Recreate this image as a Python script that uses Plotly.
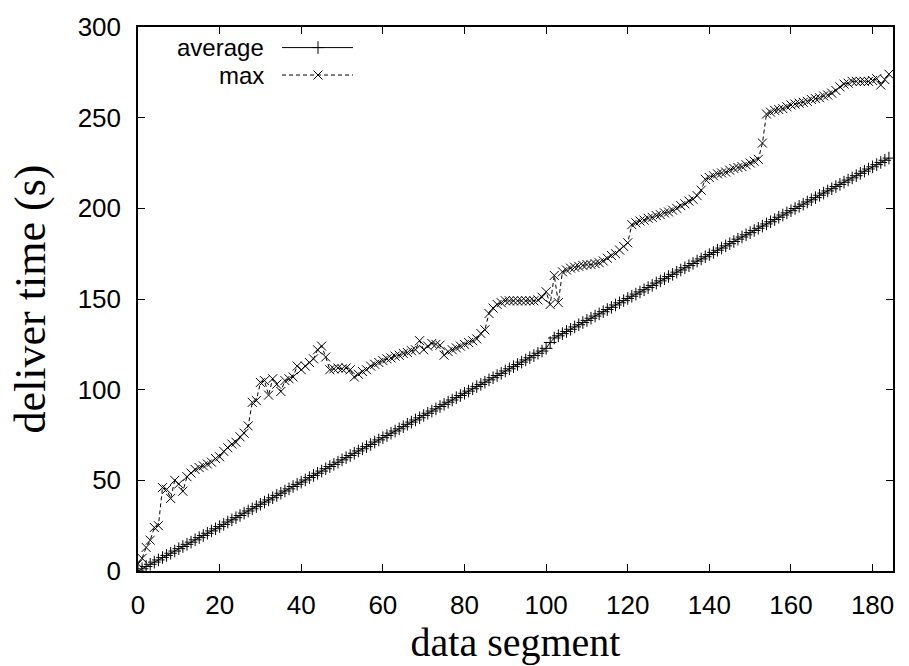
import plotly.graph_objects as go

segments = list(range(0, 185))

average = [
    0.0, 1.2, 2.5, 3.7, 4.9, 6.1, 7.4, 8.6, 9.8, 11.0,
    12.3, 13.5, 14.7, 15.9, 17.2, 18.4, 19.6, 20.8, 22.1, 23.3,
    24.5, 25.7, 27.0, 28.2, 29.4, 30.6, 31.9, 33.1, 34.3, 35.5,
    36.8, 38.0, 39.2, 40.4, 41.7, 42.9, 44.1, 45.3, 46.6, 47.8,
    49.0, 50.2, 51.5, 52.7, 53.9, 55.1, 56.4, 57.6, 58.8, 60.0,
    61.3, 62.5, 63.7, 64.9, 66.2, 67.4, 68.6, 69.8, 71.1, 72.3,
    73.5, 74.7, 76.0, 77.2, 78.4, 79.6, 80.9, 82.1, 83.3, 84.5,
    85.8, 87.0, 88.2, 89.4, 90.7, 91.9, 93.1, 94.3, 95.6, 96.8,
    98.0, 99.2, 100.5, 101.7, 102.9, 104.1, 105.4, 106.6, 107.8, 109.0,
    110.3, 111.5, 112.7, 113.9, 115.2, 116.4, 117.6, 118.8, 120.1, 121.3,
    122.8, 126.0, 128.5, 129.7, 130.9, 132.1, 133.3, 134.6, 135.8, 137.0,
    138.2, 139.4, 140.6, 141.8, 143.0, 144.2, 145.4, 146.7, 147.9, 149.1,
    150.3, 151.5, 152.7, 153.9, 155.1, 156.3, 157.5, 158.8, 160.0, 161.2,
    162.4, 163.6, 164.8, 166.0, 167.2, 168.4, 169.6, 170.9, 172.1, 173.3,
    174.5, 175.7, 176.9, 178.1, 179.3, 180.5, 181.7, 183.0, 184.2, 185.4,
    186.6, 187.8, 189.0, 190.2, 191.4, 192.6, 193.8, 195.1, 196.3, 197.5,
    198.7, 199.9, 201.1, 202.3, 203.5, 204.7, 205.9, 207.2, 208.4, 209.6,
    210.8, 212.0, 213.2, 214.4, 215.6, 216.8, 218.0, 219.3, 220.5, 221.7,
    222.9, 224.1, 225.3, 226.5, 227.7,
]

maximum = [
    4, 7, 13, 17, 24, 25, 46, 45, 40, 50,
    48, 44, 52, 54, 56, 57, 58, 59, 60, 62,
    63, 66, 68, 70, 71, 74, 76, 80, 93, 94,
    104, 105, 97, 106, 103, 99, 105, 106, 107, 113,
    111, 113, 115, 117, 122, 124, 118, 111, 111.5, 112,
    111.5, 112, 111, 107, 108.5, 110, 111, 113, 114, 115,
    116, 117, 117.5, 118.5, 119, 120, 120.5, 121.5, 122, 127,
    122, 124, 125.5, 125, 124.5, 119, 121, 122, 123, 124,
    125, 126, 127, 128, 131, 133, 142, 145, 147, 148,
    149, 149, 149, 149, 149, 149, 149, 149, 149.5, 151,
    154, 147, 163, 148, 165, 166, 167, 167.5, 168, 168.5,
    169, 169, 169.5, 170, 171, 172.5, 174, 175, 177, 179,
    181, 191, 192, 193, 193.5, 194.5, 195, 196, 196.5, 197.5,
    198, 199, 200, 201.5, 202.5, 204, 205, 207, 210, 216,
    217, 218, 219, 219.5, 220, 221, 222, 222.5, 223, 224,
    225, 226, 227, 236, 252, 253, 254, 254.5, 255, 256,
    257, 257.5, 258, 258.5, 259, 260, 260.5, 261, 262, 262.5,
    263.5, 265, 267, 268.5, 269, 270, 270, 270, 270, 270,
    270.5, 271.5, 268, 271, 274,
]

x_ticks = [0, 20, 40, 60, 80, 100, 120, 140, 160, 180]
y_ticks = [0, 50, 100, 150, 200, 250, 300]
series_names = ["average", "max"]

W, H = 909, 666
L, R, T, B = 138, 16, 21, 90
pw, ph = W - L - R, H - T - B

def px_to_paper_x(px):
    return (px - L) / pw

def py_to_paper_y(py):
    return (H - B - py) / ph

fig = go.Figure()

fig.add_trace(go.Scatter(
    x=segments, y=average, mode="lines+markers", name=series_names[0],
    line=dict(color="black", width=1),
    marker=dict(symbol="cross-thin", size=9, line=dict(color="black", width=1)),
    showlegend=False,
))
fig.add_trace(go.Scatter(
    x=segments, y=maximum, mode="lines+markers", name=series_names[1],
    line=dict(color="black", width=1, dash="4px,3px"),
    marker=dict(symbol="x-thin", size=9, line=dict(color="black", width=1)),
    showlegend=False,
))

# manual gnuplot-style key (text, then sample)
key_rows = [(42, "solid", "cross-thin"), (70, "4px,3px", "x-thin")]
x0, x1, xm = px_to_paper_x(282), px_to_paper_x(353), px_to_paper_x(318)
for (py, dash, sym), name in zip(key_rows, series_names):
    yy = py_to_paper_y(py)
    fig.add_trace(go.Scatter(
        x=[x0, xm, x1], y=[yy, yy, yy], xaxis="x2", yaxis="y2",
        mode="lines", line=dict(color="black", width=1, dash=dash),
        showlegend=False, hoverinfo="skip",
    ))
    fig.add_trace(go.Scatter(
        x=[xm], y=[yy], xaxis="x2", yaxis="y2", mode="markers",
        marker=dict(symbol=sym, size=9, line=dict(color="black", width=1)),
        showlegend=False, hoverinfo="skip",
    ))
    fig.add_annotation(
        x=px_to_paper_x(265), y=yy, xref="paper", yref="paper",
        text=name, showarrow=False, xanchor="right", yanchor="middle",
        borderpad=0,
        font=dict(family="Liberation Sans, Arial, sans-serif", size=24, color="black"),
    )

axis_common = dict(
    showline=True, linecolor="black", linewidth=1.5, mirror="ticks",
    ticks="inside", ticklen=7, tickwidth=1, tickcolor="black",
    showgrid=False, zeroline=False,
    tickfont=dict(family="Liberation Sans, Arial, sans-serif", size=26, color="black"),
)

fig.update_layout(
    width=W, height=H,
    margin=dict(l=L, r=R, t=T, b=B),
    paper_bgcolor="white", plot_bgcolor="white",
    xaxis=dict(
        range=[0, 185], tickvals=x_ticks, ticktext=[str(v) for v in x_ticks],
        ticklabelstandoff=10,
        title=dict(text="data segment", standoff=6,
                   font=dict(family="Liberation Serif, Times New Roman, serif", size=40, color="black")),
        **axis_common,
    ),
    yaxis=dict(
        range=[0, 300], tickvals=y_ticks, ticktext=[str(v) for v in y_ticks],
        ticklabelstandoff=10,
        title=dict(text="deliver time (s)", standoff=18,
                   font=dict(family="Liberation Serif, Times New Roman, serif", size=44, color="black")),
        **axis_common,
    ),
    xaxis2=dict(range=[0, 1], overlaying="x", visible=False, domain=[0, 1]),
    yaxis2=dict(range=[0, 1], overlaying="y", visible=False, domain=[0, 1]),
    showlegend=False,
)

fig.write_html("out.html")
